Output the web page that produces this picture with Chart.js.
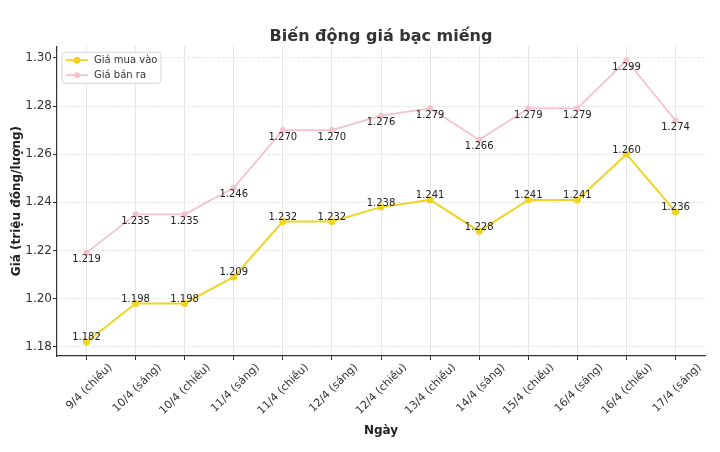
<!DOCTYPE html>
<html>
<head>
<meta charset="utf-8">
<script src="https://cdn.jsdelivr.net/npm/chart.js@4.4.0/dist/chart.umd.min.js"></script>
<style>
  html, body { margin: 0; padding: 0; background: #fff; }
  #wrap { width: 720px; height: 452px; }
</style>
</head>
<body>
<div id="wrap"><canvas id="chart" width="720" height="452"></canvas></div>
<script>
// Data
const dates = ['9/4 (chiều)', '10/4 (sáng)', '10/4 (chiều)', '11/4 (sáng)', '11/4 (chiều)', '12/4 (sáng)',
    '12/4 (chiều)', '13/4 (chiều)', '14/4 (sáng)', '15/4 (chiều)', '16/4 (sáng)', '16/4 (chiều)', '17/4 (sáng)'];
const buyPrices = [1.182, 1.198, 1.198, 1.209, 1.232, 1.232, 1.238, 1.241, 1.228, 1.241, 1.241, 1.260, 1.236];
const sellPrices = [1.219, 1.235, 1.235, 1.246, 1.270, 1.270, 1.276, 1.279, 1.266, 1.279, 1.279, 1.299, 1.274];
const yTicks = [1.18, 1.20, 1.22, 1.24, 1.26, 1.28, 1.30];

const FONT = "'DejaVu Sans', sans-serif";
const YELLOW = '#efd325';
const PINK = '#f5c1ca';

// matplotlib-like 5% margins
const allVals = buyPrices.concat(sellPrices);
const vMin = Math.min(...allVals), vMax = Math.max(...allVals);
const pad = (vMax - vMin) * 0.05;

// Value labels next to each point
const valueLabels = {
    id: 'valueLabels',
    afterDatasetsDraw(chart) {
        const ctx = chart.ctx;
        ctx.save();
        ctx.font = '10px ' + FONT;
        ctx.fillStyle = '#222';
        ctx.textAlign = 'center';
        ctx.textBaseline = 'alphabetic';
        chart.data.datasets.forEach((ds, i) => {
            const meta = chart.getDatasetMeta(i);
            meta.data.forEach((pt, j) => {
                const txt = ds.data[j].y.toFixed(3);
                const dy = ds.labelAbove ? -1.5 : 9.5;
                ctx.fillText(txt, pt.x, pt.y + dy);
            });
        });
        ctx.restore();
    }
};

// Legend box inside the plot, top-left
const innerLegend = {
    id: 'innerLegend',
    afterDraw(chart) {
        const ctx = chart.ctx;
        const a = chart.chartArea;
        const x = a.left + 5, y = a.top + 6, w = 99, h = 31;
        ctx.save();
        ctx.beginPath();
        ctx.roundRect(x, y, w, h, 3);
        ctx.fillStyle = 'rgba(255,255,255,0.85)';
        ctx.fill();
        ctx.strokeStyle = '#d6d6d6';
        ctx.lineWidth = 1;
        ctx.stroke();
        ctx.font = '10px ' + FONT;
        ctx.textBaseline = 'middle';
        ctx.textAlign = 'left';
        chart.data.datasets.forEach((ds, i) => {
            const ly = y + 8 + i * 15;
            ctx.strokeStyle = ds.borderColor;
            ctx.lineWidth = ds.borderWidth;
            ctx.beginPath();
            ctx.moveTo(x + 4, ly);
            ctx.lineTo(x + 26, ly);
            ctx.stroke();
            ctx.fillStyle = ds.pointBackgroundColor;
            ctx.beginPath();
            ctx.arc(x + 15, ly, ds.pointRadius, 0, Math.PI * 2);
            ctx.fill();
            ctx.fillStyle = '#333';
            ctx.fillText(ds.label, x + 32, ly);
        });
        ctx.restore();
    }
};

new Chart(document.getElementById('chart'), {
    type: 'line',
    data: {
        datasets: [{
            label: 'Giá mua vào',
            data: buyPrices.map((v, i) => ({ x: i, y: v })),
            borderColor: YELLOW,
            backgroundColor: YELLOW,
            pointBackgroundColor: YELLOW,
            pointBorderWidth: 0,
            pointRadius: 3.5,
            borderWidth: 2,
            tension: 0,
            labelAbove: true
        }, {
            label: 'Giá bán ra',
            data: sellPrices.map((v, i) => ({ x: i, y: v })),
            borderColor: PINK,
            backgroundColor: PINK,
            pointBackgroundColor: PINK,
            pointBorderWidth: 0,
            pointRadius: 3,
            borderWidth: 1.8,
            tension: 0,
            labelAbove: false
        }]
    },
    options: {
        responsive: false,
        animation: false,
        layout: {
            padding: { left: 8, right: 15, top: 0, bottom: 10 }
        },
        plugins: {
            legend: { display: false },
            tooltip: { enabled: false },
            title: {
                display: true,
                text: 'Biến động giá bạc miếng',
                fullSize: false,
                color: '#333',
                font: { family: FONT, size: 16, weight: 'bold' },
                padding: { top: 27, bottom: 0 }
            }
        },
        scales: {
            x: {
                type: 'linear',
                min: -0.6,
                max: dates.length - 1 + 0.6,
                afterBuildTicks: scale => {
                    scale.ticks = dates.map((d, i) => ({ value: i }));
                },
                afterFit: scale => { scale.height = 86; },
                grid: { color: '#e6e6e6', tickColor: '#333', tickLength: 4 },
                border: { display: true, color: '#333', width: 1.2 },
                ticks: {
                    autoSkip: false,
                    maxRotation: 45,
                    minRotation: 45,
                    labelOffset: 24,
                    padding: 1,
                    color: '#333',
                    font: { family: FONT, size: 11 },
                    callback: value => dates[value]
                },
                title: {
                    display: true,
                    text: 'Ngày',
                    color: '#222',
                    font: { family: FONT, size: 12, weight: 'bold' },
                    padding: { top: 2, bottom: 4 }
                }
            },
            y: {
                min: vMin - pad,
                max: vMax + pad,
                afterBuildTicks: scale => {
                    scale.ticks = yTicks.map(v => ({ value: v }));
                },
                afterFit: scale => { scale.width = 49; },
                grid: { color: '#e6e6e6', tickColor: '#333', tickLength: 4 },
                border: { display: true, color: '#333', width: 1.2, dash: [3, 2] },
                ticks: {
                    padding: 1,
                    color: '#333',
                    font: { family: FONT, size: 12 },
                    callback: value => value.toFixed(2)
                },
                title: {
                    display: true,
                    text: 'Giá (triệu đồng/lượng)',
                    color: '#222',
                    font: { family: FONT, size: 12, weight: 'bold' },
                    padding: { top: 2, bottom: 2 }
                }
            }
        }
    },
    plugins: [valueLabels, innerLegend]
});
</script>
</body>
</html>
